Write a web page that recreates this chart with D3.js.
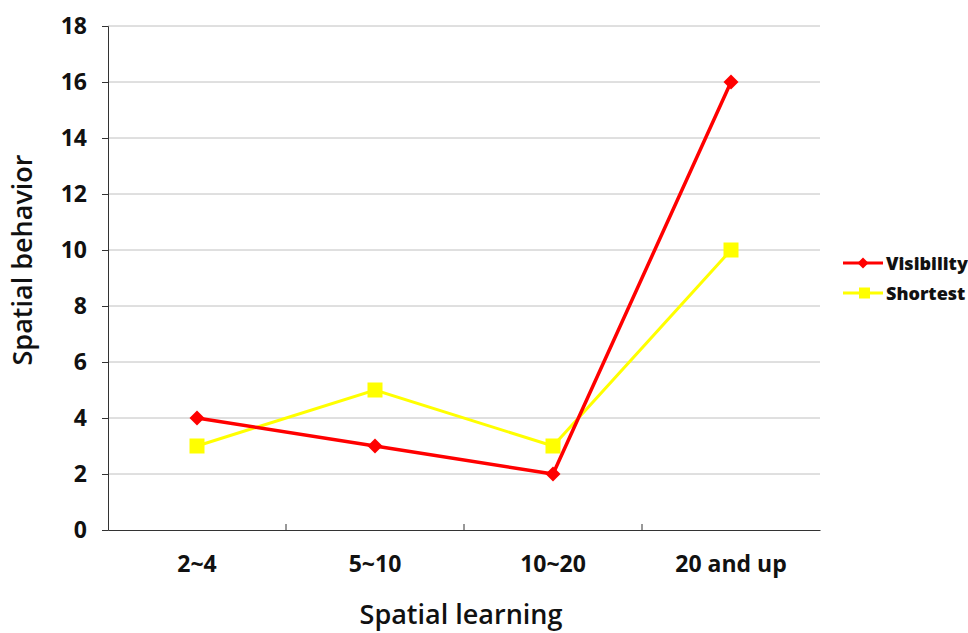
<!DOCTYPE html>
<html><head><meta charset="utf-8">
<script src="https://cdn.jsdelivr.net/npm/d3@7"></script>
<style>body{margin:0;background:#fff}</style>
</head><body>
<script>
const categories = ["2~4", "5~10", "10~20", "20 and up"];
const visibility = [4, 3, 2, 16];
const shortest = [3, 5, 3, 10];
const yTicks = [0, 2, 4, 6, 8, 10, 12, 14, 16, 18];
const seriesNames = ["Visibility", "Shortest"];
const seriesColors = ["#ff0000", "#ffff00"];

const W = 968, H = 633;
const m = {left: 108, right: 820, top: 26, bottom: 530};
const FONT = "'Open Sans', sans-serif";
const svg = d3.select("body").append("svg").attr("width", W).attr("height", H)
  .style("font-family", FONT);

const x = d3.scaleBand().domain(categories).range([m.left, m.right]);
const y = d3.scaleLinear().domain([0, 18]).range([m.bottom, m.top]);

const diamondPath = r => `M0,${-r}L${r},0L0,${r}L${-r},0Z`;

// gridlines
svg.append("g").selectAll("line").data(yTicks.filter(d => d > 0)).join("line")
  .attr("x1", m.left).attr("x2", m.right)
  .attr("y1", d => y(d)).attr("y2", d => y(d))
  .attr("stroke", "#c0c0c0").attr("stroke-width", 1);

// y axis
const ya = svg.append("g").attr("transform", `translate(${m.left},0)`)
  .call(d3.axisLeft(y).tickValues(yTicks).tickSize(6).tickPadding(15));
ya.select(".domain").attr("stroke", "#333");
ya.selectAll(".tick line").attr("stroke", "#333");
ya.selectAll("text").attr("font-size", 23).attr("font-weight", 700).attr("fill", "#111")
  .attr("font-family", FONT);

// x axis
const xa = svg.append("g").attr("transform", `translate(0,${m.bottom})`)
  .call(d3.axisBottom(x).tickSize(0).tickPadding(26));
xa.select(".domain").attr("stroke", "#333");
xa.selectAll("text").attr("font-size", 23).attr("font-weight", 700).attr("fill", "#111")
  .attr("font-family", FONT);
const bounds = categories.slice(1).map(c => x(c));
svg.append("g").selectAll("line").data(bounds).join("line")
  .attr("x1", d => d).attr("x2", d => d)
  .attr("y1", m.bottom).attr("y2", m.bottom - 6)
  .attr("stroke", "#333");

// axis titles
svg.append("text").attr("x", (m.left + m.right) / 2 - 3).attr("y", 624)
  .attr("text-anchor", "middle").attr("font-size", 27).attr("font-weight", 600)
  .attr("fill", "#111").text("Spatial learning");
svg.append("text").attr("transform", `translate(32,260) rotate(-90)`)
  .attr("text-anchor", "middle").attr("font-size", 27).attr("font-weight", 600)
  .attr("fill", "#111").text("Spatial behavior");

const cx = c => x(c) + x.bandwidth() / 2;
const line = d3.line().x((d, i) => cx(categories[i])).y(d => y(d));

// Shortest series
svg.append("path").datum(shortest).attr("d", line).attr("fill", "none")
  .attr("stroke", seriesColors[1]).attr("stroke-width", 3);
svg.append("g").selectAll("rect").data(shortest).join("rect")
  .attr("x", (d, i) => cx(categories[i]) - 7.5).attr("y", d => y(d) - 7.5)
  .attr("width", 15).attr("height", 15).attr("fill", seriesColors[1]);

// Visibility series
svg.append("path").datum(visibility).attr("d", line).attr("fill", "none")
  .attr("stroke", seriesColors[0]).attr("stroke-width", 3.5);
svg.append("g").selectAll("path").data(visibility).join("path")
  .attr("d", diamondPath(7.5))
  .attr("transform", (d, i) => `translate(${cx(categories[i])},${y(d)})`)
  .attr("fill", seriesColors[0]);

// legend
const lg = svg.append("g");
seriesNames.forEach((name, i) => {
  const yy = 263 + i * 30;
  lg.append("line").attr("x1", 843).attr("x2", 883).attr("y1", yy).attr("y2", yy)
    .attr("stroke", seriesColors[i]).attr("stroke-width", 3);
  if (i === 0) {
    lg.append("path").attr("d", diamondPath(5.5))
      .attr("transform", `translate(863,${yy})`).attr("fill", seriesColors[i]);
  } else {
    lg.append("rect").attr("x", 859).attr("y", yy - 5.5).attr("width", 11).attr("height", 11)
      .attr("fill", seriesColors[i]);
  }
  lg.append("text").attr("x", 886).attr("y", yy + 7).attr("font-size", 18)
    .attr("font-weight", 800).attr("fill", "#111").text(name);
});
</script>
</body></html>
